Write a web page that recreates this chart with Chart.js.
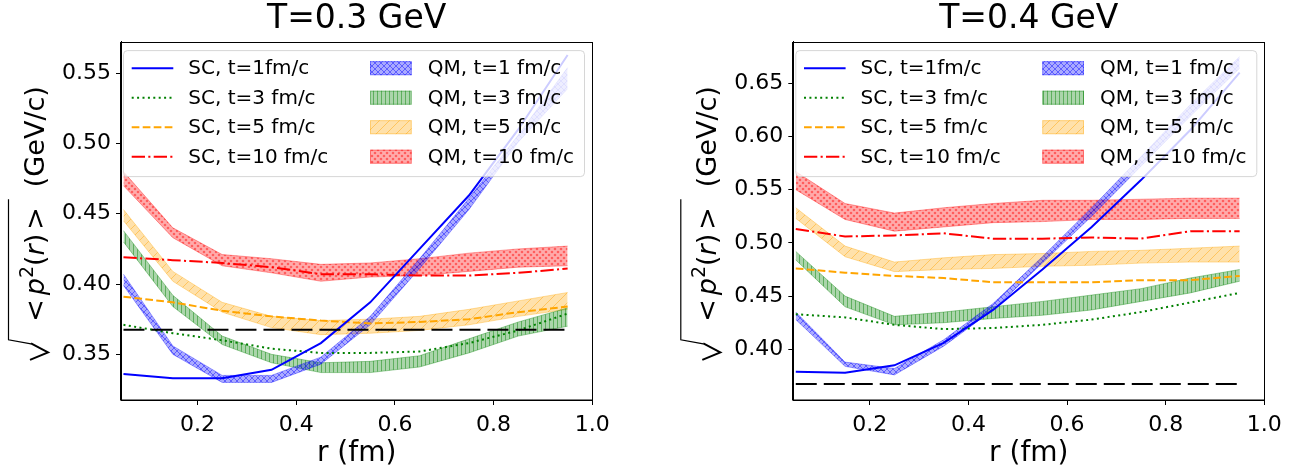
<!DOCTYPE html>
<html>
<head>
<meta charset="utf-8">
<script src="https://cdn.jsdelivr.net/npm/chart.js@4.4.1/dist/chart.umd.min.js"></script>
<style>
  body { margin: 0; background: #fff; }
  #wrap { position: relative; width: 1299px; height: 471px; }
  canvas { position: absolute; top: 0; }
</style>
</head>
<body>
<div id="wrap">
  <canvas id="left" width="650" height="471" style="left:0"></canvas>
  <canvas id="right" width="649" height="471" style="left:650px"></canvas>
</div>
<script>
// radius grid (fm)
const r = [0.05, 0.15, 0.25, 0.35, 0.45, 0.55, 0.65, 0.75, 0.85, 0.95]
const refR = [0.05, 0.95]
const refV = [0.3675, 0.3675]

const scLabels = ['SC, t=1fm/c', 'SC, t=3 fm/c', 'SC, t=5 fm/c', 'SC, t=10 fm/c']
const qmLabels = ['QM, t=1 fm/c', 'QM, t=3 fm/c', 'QM, t=5 fm/c', 'QM, t=10 fm/c']

// T = 0.3 GeV
const sc1_03 = [0.336, 0.333, 0.333, 0.339, 0.358, 0.387, 0.425, 0.463, 0.510, 0.563]
const sc3_03 = [0.371, 0.365, 0.360, 0.354, 0.351, 0.351, 0.352, 0.358, 0.367, 0.379]
const sc5_03 = [0.391, 0.387, 0.381, 0.377, 0.374, 0.372, 0.373, 0.375, 0.380, 0.384]
const sc10_03 = [0.419, 0.417, 0.415, 0.412, 0.407, 0.407, 0.406, 0.406, 0.408, 0.411]
const qm1lo_03 = [0.399, 0.350, 0.330, 0.330, 0.343, 0.371, 0.411, 0.453, 0.501, 0.539]
const qm1hi_03 = [0.407, 0.356, 0.335, 0.335, 0.348, 0.377, 0.418, 0.461, 0.506, 0.554]
const qm3lo_03 = [0.430, 0.384, 0.357, 0.344, 0.337, 0.337, 0.341, 0.351, 0.363, 0.370]
const qm3hi_03 = [0.438, 0.392, 0.363, 0.350, 0.344, 0.345, 0.349, 0.361, 0.373, 0.383]
const qm5lo_03 = [0.445, 0.402, 0.380, 0.369, 0.364, 0.365, 0.367, 0.371, 0.377, 0.382]
const qm5hi_03 = [0.453, 0.409, 0.387, 0.377, 0.374, 0.375, 0.377, 0.382, 0.388, 0.394]
const qm10lo_03 = [0.470, 0.433, 0.413, 0.408, 0.402, 0.405, 0.406, 0.409, 0.412, 0.413]
const qm10hi_03 = [0.480, 0.440, 0.421, 0.418, 0.414, 0.415, 0.418, 0.422, 0.425, 0.427]

// T = 0.4 GeV
const sc1_04 = [0.379, 0.378, 0.385, 0.406, 0.437, 0.475, 0.515, 0.559, 0.606, 0.660]
const sc3_04 = [0.433, 0.430, 0.423, 0.419, 0.420, 0.423, 0.428, 0.435, 0.444, 0.453]
const sc5_04 = [0.476, 0.472, 0.469, 0.467, 0.463, 0.463, 0.463, 0.465, 0.465, 0.469]
const sc10_04 = [0.513, 0.506, 0.507, 0.509, 0.504, 0.504, 0.505, 0.504, 0.511, 0.511]
const qm1lo_04 = [0.428, 0.384, 0.376, 0.403, 0.437, 0.481, 0.525, 0.572, 0.619, 0.664]
const qm1hi_04 = [0.435, 0.388, 0.382, 0.409, 0.443, 0.487, 0.533, 0.581, 0.630, 0.675]
const qm3lo_04 = [0.484, 0.440, 0.423, 0.425, 0.429, 0.432, 0.437, 0.445, 0.453, 0.464]
const qm3hi_04 = [0.492, 0.450, 0.431, 0.435, 0.440, 0.445, 0.451, 0.457, 0.467, 0.475]
const qm5lo_04 = [0.523, 0.487, 0.473, 0.475, 0.476, 0.478, 0.479, 0.481, 0.482, 0.482]
const qm5hi_04 = [0.533, 0.497, 0.482, 0.486, 0.489, 0.490, 0.492, 0.493, 0.495, 0.497]
const qm10lo_04 = [0.550, 0.522, 0.511, 0.515, 0.519, 0.520, 0.522, 0.522, 0.523, 0.523]
const qm10hi_04 = [0.567, 0.537, 0.528, 0.533, 0.537, 0.540, 0.540, 0.541, 0.542, 0.542]

const FONT = 'DejaVu Sans'
const rgbs = ['0,0,255', '0,128,0', '255,165,0', '255,0,0']
const lineColors = ['rgb(0,0,255)', 'rgb(0,128,0)', 'rgb(255,165,0)', 'rgb(255,0,0)']
const dashes = [[], [2, 3.4], [7.7, 3.3], [13.3, 3.3, 2.1, 3.3]]
const hatchKinds = ['x', '|', '/', 'o']

const pts = (xs, ys) => xs.map((x, i) => ({ x: x, y: ys[i] }))

function hatch(kind, rgb) {
  const s = kind === '|' ? 4 : kind === '/' ? 10 : 6
  const c = document.createElement('canvas')
  c.width = s; c.height = s
  const g = c.getContext('2d')
  g.fillStyle = 'rgba(' + rgb + ',0.33)'
  g.fillRect(0, 0, s, s)
  g.strokeStyle = 'rgba(' + rgb + ',0.45)'
  g.fillStyle = 'rgba(' + rgb + ',0.45)'
  g.lineWidth = 1
  g.beginPath()
  if (kind === 'x') {
    g.moveTo(0, 0); g.lineTo(s, s); g.moveTo(s, 0); g.lineTo(0, s)
  } else if (kind === '|') {
    g.moveTo(1.5, 0); g.lineTo(1.5, s)
  } else if (kind === '/') {
    g.moveTo(-1, s + 1); g.lineTo(s + 1, -1)
    g.moveTo(-1, 1); g.lineTo(1, -1)
    g.moveTo(s - 1, s + 1); g.lineTo(s + 1, s - 1)
  }
  g.stroke()
  if (kind === 'o') {
    ;[[s / 2, s / 2], [0, 0], [s, 0], [0, s], [s, s]].forEach(p => {
      g.beginPath(); g.arc(p[0], p[1], 1.3, 0, Math.PI * 2); g.fill()
    })
  }
  return g.createPattern(c, 'repeat')
}

function drawYLabel(ctx, cx, cy) {
  const N = '27px "' + FONT + '"', I = 'italic 27px "' + FONT + '"', S = '19px "' + FONT + '"'
  ctx.save()
  ctx.translate(cx, cy)
  ctx.rotate(-Math.PI / 2)
  ctx.fillStyle = '#000'
  ctx.strokeStyle = '#000'
  ctx.textBaseline = 'alphabetic'
  const base = 9.5
  let x = -101
  const put = (t, f, dy) => { ctx.font = f; ctx.fillText(t, x, base + (dy || 0)); x += ctx.measureText(t).width }
  put('<', N); x += 4; put('p', I); put('2', S, -11); put('(', N); put('r', I); put(')', N); x += 4; put('>', N)
  const end = x + 8
  // radical sign: thin overline + long stroke, heavier check
  ctx.lineWidth = 1.2
  ctx.beginPath()
  ctx.moveTo(end, -25.5); ctx.lineTo(-119, -25.5); ctx.lineTo(-123, -3)
  ctx.stroke()
  ctx.lineWidth = 2
  ctx.lineJoin = 'miter'
  ctx.beginPath()
  ctx.moveTo(-122.5, -3); ctx.lineTo(-131.5, 14); ctx.lineTo(-139, -4)
  ctx.stroke()
  x = end + 12
  put('(GeV/c)', N)
  ctx.restore()
}

function makeChart(id, title, yMin, yMax, yWidth, padRight, sc, qmLo, qmHi) {
  const pats = hatchKinds.map((k, i) => hatch(k, rgbs[i]))
  const datasets = []
  datasets.push({ data: pts(refR, refV), borderColor: '#000', borderWidth: 2, borderDash: [21, 7] })
  sc.forEach((ys, i) => datasets.push({ data: pts(r, ys), borderColor: lineColors[i], borderWidth: 2, borderDash: dashes[i] }))
  qmLo.forEach((lo, i) => {
    const edge = 'rgba(' + rgbs[i] + ',0.35)'
    datasets.push({ data: pts(r, lo), borderColor: edge, borderWidth: 1, fill: false })
    datasets.push({ data: pts(r, qmHi[i]), borderColor: edge, borderWidth: 1, fill: '-1', backgroundColor: pats[i] })
  })

  const extras = {
    id: 'extras',
    afterDatasetsDraw(chart) {
      const ctx = chart.ctx, a = chart.chartArea
      // legend
      const x0 = a.left + 2.5, y0 = a.top + 9
      ctx.save()
      ctx.beginPath()
      ctx.roundRect(x0, y0, 461, 126, 4)
      ctx.fillStyle = 'rgba(255,255,255,0.8)'
      ctx.fill()
      ctx.strokeStyle = 'rgba(204,204,204,0.8)'
      ctx.lineWidth = 1
      ctx.stroke()
      ctx.font = '20px "' + FONT + '"'
      ctx.textBaseline = 'middle'
      ctx.fillStyle = '#000'
      for (let i = 0; i < 4; i++) {
        const yc = a.top + 26.6 + i * 29.5
        ctx.save()
        ctx.strokeStyle = lineColors[i]
        ctx.lineWidth = 2
        ctx.setLineDash(dashes[i])
        ctx.beginPath(); ctx.moveTo(a.left + 10.7, yc); ctx.lineTo(a.left + 52.3, yc); ctx.stroke()
        ctx.restore()
        ctx.fillText(scLabels[i], a.left + 67.3, yc + 1)
        ctx.fillStyle = pats[i]
        ctx.fillRect(a.left + 249, yc - 7, 41.7, 14)
        ctx.strokeStyle = 'rgba(' + rgbs[i] + ',0.35)'
        ctx.strokeRect(a.left + 249.5, yc - 6.5, 40.7, 13)
        ctx.fillStyle = '#000'
        ctx.fillText(qmLabels[i], a.left + 306.7, yc + 1)
      }
      // frame
      ctx.strokeStyle = '#000'
      ctx.lineWidth = 1
      ctx.strokeRect(Math.round(a.left) - 0.5, Math.round(a.top) + 0.5, Math.round(a.width) + 1, Math.round(a.height) - 0.5)
      ctx.restore()
    },
    afterDraw(chart) {
      const a = chart.chartArea
      drawYLabel(chart.ctx, a.left - 87, (a.top + a.bottom) / 2)
    }
  }

  return new Chart(document.getElementById(id), {
    type: 'line',
    data: { datasets: datasets },
    plugins: [extras],
    options: {
      responsive: false,
      animation: false,
      devicePixelRatio: 1,
      layout: { padding: { left: 0, right: padRight, top: 0, bottom: 0 } },
      elements: { point: { radius: 0 }, line: { tension: 0 } },
      plugins: {
        legend: { display: false },
        tooltip: { enabled: false },
        title: {
          display: true, text: title, color: '#000', fullSize: false,
          font: { family: FONT, size: 33, weight: 'normal' },
          padding: { top: 0, bottom: 2 }
        }
      },
      scales: {
        x: {
          type: 'linear', min: 0.045, max: 1.0,
          afterFit: s => { s.height = 71 },
          ticks: { stepSize: 0.2, includeBounds: false, color: '#000', padding: 7, maxRotation: 0,
            font: { family: FONT, size: 22 }, callback: v => v.toFixed(1) },
          grid: { drawOnChartArea: false, drawTicks: true, tickLength: 5, color: '#000' },
          border: { display: true, color: '#000' },
          title: { display: true, text: 'r (fm)', color: '#000', font: { family: FONT, size: 28 }, padding: { top: 0, bottom: 0 } }
        },
        y: {
          min: yMin, max: yMax,
          afterFit: s => { s.width = yWidth },
          ticks: { stepSize: 0.05, includeBounds: false, color: '#000', padding: 5,
            font: { family: FONT, size: 22 }, callback: v => v.toFixed(2) },
          grid: { drawOnChartArea: false, drawTicks: true, tickLength: 5, color: '#000' },
          border: { display: true, color: '#000' }
        }
      }
    }
  })
}

makeChart('left', 'T=0.3 GeV', 0.3175, 0.5725, 121, 57.7,
  [sc1_03, sc3_03, sc5_03, sc10_03],
  [qm1lo_03, qm3lo_03, qm5lo_03, qm10lo_03],
  [qm1hi_03, qm3hi_03, qm5hi_03, qm10hi_03])

makeChart('right', 'T=0.4 GeV', 0.3524, 0.6891, 143.3, 34.7,
  [sc1_04, sc3_04, sc5_04, sc10_04],
  [qm1lo_04, qm3lo_04, qm5lo_04, qm10lo_04],
  [qm1hi_04, qm3hi_04, qm5hi_04, qm10hi_04])
</script>
</body>
</html>
